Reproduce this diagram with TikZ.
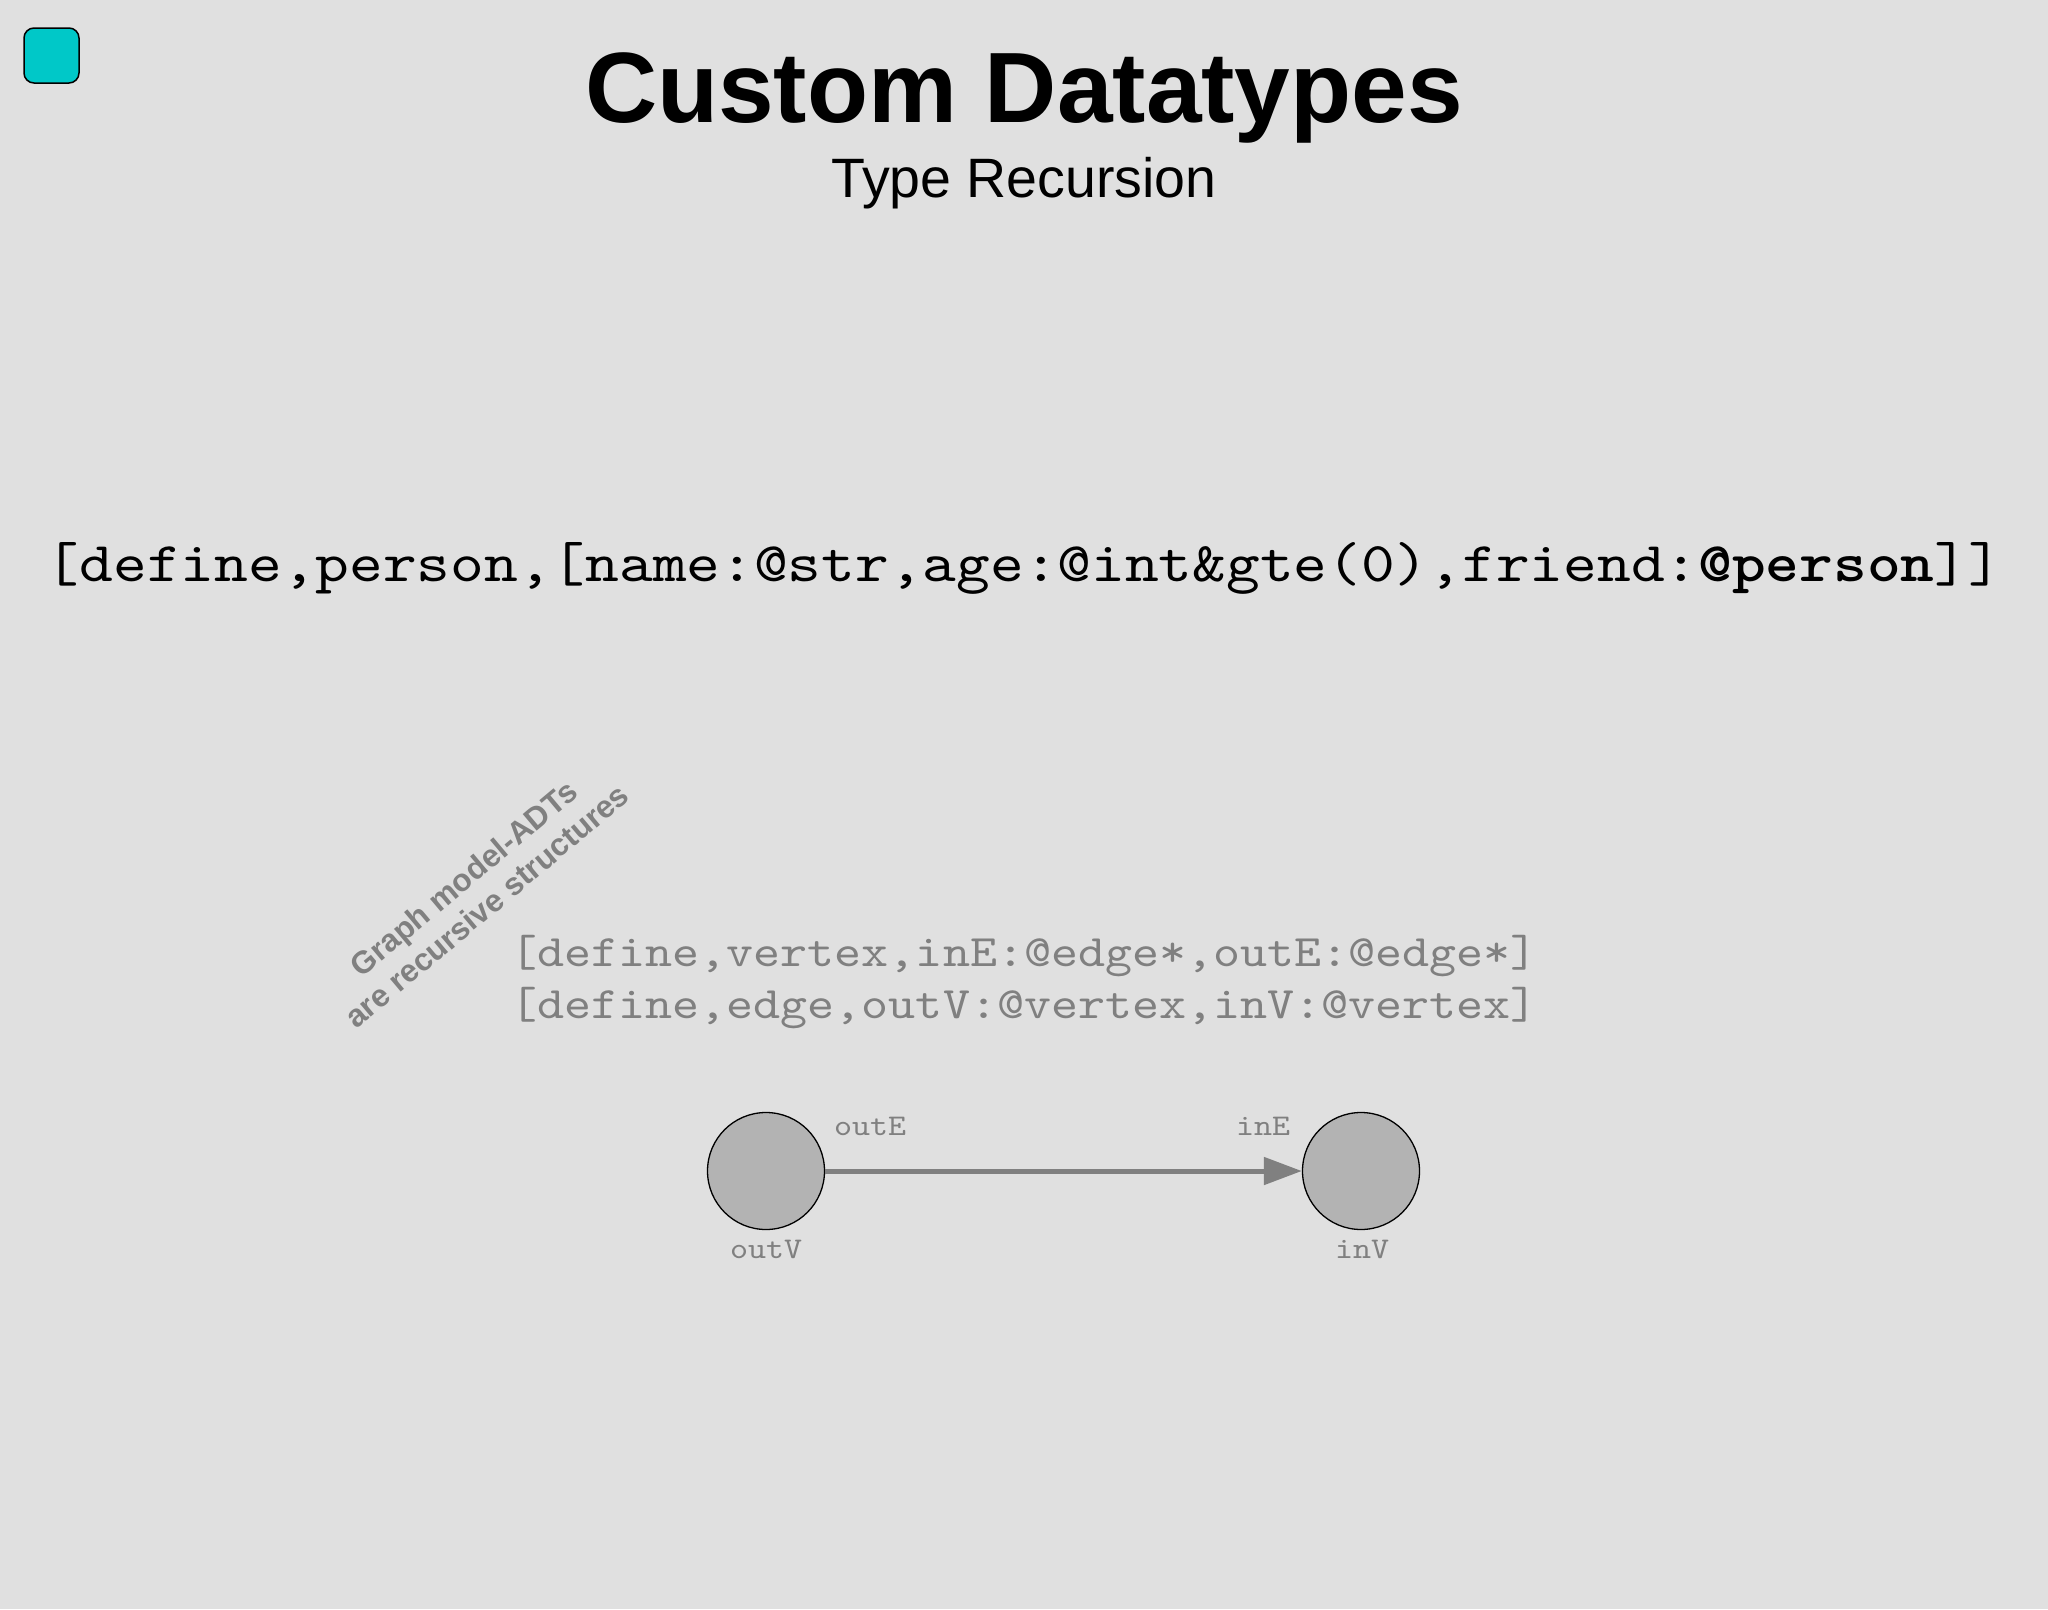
\documentclass[tikz,border=0pt]{standalone}
\usepackage{fontspec}
\setmainfont{Liberation Sans}
\newfontfamily\codefont[FakeStretch=1.143, BoldFont=lmmonolt10-bold.otf, BoldFeatures={FakeStretch=1.143}]{lmmono10-regular.otf}
\usetikzlibrary{arrows.meta}
\definecolor{bgc}{RGB}{224,224,224}
\definecolor{grayc}{RGB}{128,128,128}
\definecolor{vfill}{RGB}{179,179,179}
\definecolor{cyanc}{RGB}{0,200,200}
\tikzset{
  txt/.style={inner sep=0pt, anchor=base},
  vertexnode/.style={circle, draw=black, line width=1.3pt, fill=vfill, minimum size=117pt, inner sep=0pt},
  edgeline/.style={draw=grayc, line width=5pt, -{Triangle[length=38pt,width=27pt]}},
  lbl/.style={txt, text=grayc, font=\codefont\fontsize{30}{34}\selectfont},
  graycode/.style={txt, text=grayc, font=\codefont\fontsize{45}{50}\selectfont},
}
\begin{document}
\begin{tikzpicture}[x=1pt,y=-1pt]
\fill[bgc] (0,0) rectangle (2048,1609);
\useasboundingbox (0,0) rectangle (2048,1609);
% icon
\draw[fill=cyanc, draw=black, line width=1.5pt, rounded corners=10pt] (24,28) rectangle (79,83);
% titles
\node[txt, font=\bfseries\fontsize{100}{110}\selectfont] (title) at (1024,122) {Custom Datatypes};
\node[txt, font=\fontsize{55.5}{60}\selectfont] (subtitle) at (1024,197) {Type Recursion};
% main code
\node[txt, font=\codefont\fontsize{56.2}{62}\selectfont] (code) at (1024,581) {[define,person,[name:@str,age:@int\&gte(0),friend:\textbf{@person}]]};
% rotated note
\node[inner sep=0pt, rotate=40, align=center, text=grayc, font=\bfseries\fontsize{31.5}{36}\selectfont] (note) at (475,892) {Graph model-ADTs\\are recursive structures};
% gray code
\node[graycode] (line1) at (1024,966) {[define,vertex,inE:@edge*,outE:@edge*]};
\node[graycode] (line2) at (1024,1018) {[define,edge,outV:@vertex,inV:@vertex]};
% graph
\node[vertexnode] (outV) at (766,1171) {};
\node[vertexnode] (inV) at (1361,1171) {};
\draw[edgeline] (outV.east) -- (inV.west);
\node[lbl] (outElbl) at (870,1135) {outE};
\node[lbl] (inElbl) at (1263,1135) {inE};
\node[lbl] (outVlbl) at (766,1258) {outV};
\node[lbl] (inVlbl) at (1362,1258) {inV};
\end{tikzpicture}
\end{document}
